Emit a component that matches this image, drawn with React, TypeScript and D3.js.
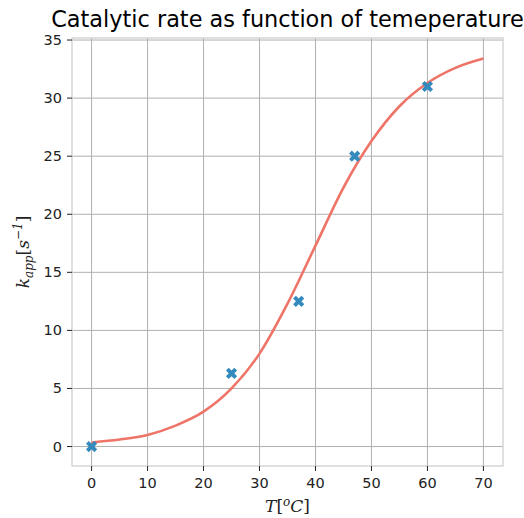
import React from "react";
import * as d3 from "d3";

const pointT = [0, 25, 37, 47, 60];
const pointK = [0, 6.3, 12.5, 25, 31];

const curveT = [0, 5, 10, 15, 20, 25, 30, 35, 40, 45, 50, 55, 60, 65, 70];
const curveK = [0.35, 0.6, 1.0, 1.8, 3.0, 5.0, 8.0, 12.3, 17.3, 22.3, 26.3, 29.3, 31.3, 32.6, 33.4];

const xTicks = [0, 10, 20, 30, 40, 50, 60, 70];
const yTicks = [0, 5, 10, 15, 20, 25, 30, 35];

const title = "Catalytic rate as function of temeperature";

export default function App() {
  const W = 524, H = 518;
  const left = 72, right = 503, top = 38, bottom = 466;
  const x = d3.scaleLinear().domain([-3.5, 73.5]).range([left, right]);
  const y = d3.scaleLinear().domain([-1.675, 35.175]).range([bottom, top]);

  const line = d3
    .line<number>()
    .x((_, i) => x(curveT[i]))
    .y((d) => y(d))
    .curve(d3.curveMonotoneX);

  const s = 5.6;
  const w = 2.8;
  const xMarker = `M${-s},${-s + w}L${-s + w},${-s}L0,${-w}L${s - w},${-s}L${s},${-s + w}L${w},0L${s},${s - w}L${s - w},${s}L0,${w}L${-s + w},${s}L${-s},${s - w}L${-w},0Z`;

  const font = "DejaVu Sans, sans-serif";
  return (
    <svg width={W} height={H} style={{ position: "absolute", left: 0, top: 0 }}>
      <rect width={W} height={H} fill="#fff" />
      <text x={(left + right) / 2} y={27} textAnchor="middle" fontFamily={font} fontSize={22.4} fill="#000">
        {title}
      </text>
      {xTicks.map((t) => (
        <line key={"gx" + t} x1={x(t)} x2={x(t)} y1={top} y2={bottom} stroke="#b0b0b0" strokeWidth={1} />
      ))}
      {yTicks.map((t) => (
        <line key={"gy" + t} x1={left} x2={right} y1={y(t)} y2={y(t)} stroke="#b0b0b0" strokeWidth={1} />
      ))}
      <rect x={left} y={top} width={right - left} height={bottom - top} fill="none" stroke="#cccccc" strokeWidth={1.2} />
      {xTicks.map((t) => (
        <g key={"xt" + t}>
          <line x1={x(t)} x2={x(t)} y1={bottom} y2={bottom + 5} stroke="#222" strokeWidth={1} />
          <text x={x(t)} y={bottom + 22} textAnchor="middle" fontFamily={font} fontSize={14.5} fill="#222">
            {t}
          </text>
        </g>
      ))}
      {yTicks.map((t) => (
        <g key={"yt" + t}>
          <line x1={left - 5} x2={left} y1={y(t)} y2={y(t)} stroke="#222" strokeWidth={1} />
          <text x={left - 10} y={y(t) + 5} textAnchor="end" fontFamily={font} fontSize={14.5} fill="#222">
            {t}
          </text>
        </g>
      ))}
      <path d={line(curveK) || ""} fill="none" stroke="#ee7468" strokeWidth={2.6} />
      {pointT.map((t, i) => (
        <path key={"p" + i} d={xMarker} transform={`translate(${x(t)},${y(pointK[i])})`} fill="#348abd" />
      ))}
      <text
        x={(left + right) / 2}
        y={512}
        textAnchor="middle"
        fontFamily="DejaVu Serif, serif"
        fontStyle="italic"
        fontSize={17}
        fill="#222"
      >
        T<tspan fontStyle="normal">[</tspan>
        <tspan dy={-6} fontSize={12}>o</tspan>
        <tspan dy={6}>C</tspan>
        <tspan fontStyle="normal">]</tspan>
      </text>
      <text
        transform={`translate(29,${(top + bottom) / 2}) rotate(-90)`}
        textAnchor="middle"
        fontFamily="DejaVu Serif, serif"
        fontStyle="italic"
        fontSize={17}
        fill="#222"
      >
        k
        <tspan dy={4} fontSize={12}>app</tspan>
        <tspan dy={-4} fontStyle="normal">[</tspan>
        <tspan>s</tspan>
        <tspan dy={-7} fontSize={12}>−1</tspan>
        <tspan dy={7} fontStyle="normal">]</tspan>
      </text>
    </svg>
  );
}
